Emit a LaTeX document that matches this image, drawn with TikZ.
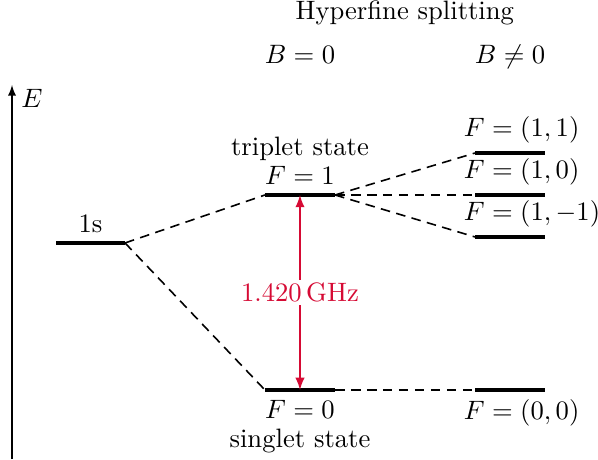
\documentclass[tikz,border=0pt]{standalone}
\usepackage{amsmath,amssymb}
\usepackage{xcolor}
\usepackage{tikz}
\usetikzlibrary{arrows,positioning,calc}
\definecolor{freqred}{RGB}{214,10,52}

\begin{document}
\begin{tikzpicture}[x=1.03cm,y=1.03cm]

\tikzstyle{level}=[draw,line width=1.2pt]
\tikzstyle{line}=[draw,dash pattern=on 3.6pt off 2.4pt,semithick]

\useasboundingbox (0,0) rectangle (7.667,-5.885);

% energy axis
\coordinate (axbot) at (0.154,-5.885);
\coordinate (axtop) at (0.154,-1.09);
\draw[-latex] (axbot) -- (axtop);
\node (elab) [anchor=west] at (0.154,-1.256) {$E$};

% headers
\node (hfs) [anchor=base] at (5.19,-0.244) {Hyperfine splitting};
\node (bzero) [anchor=base] at (3.846,-0.808) {$B=0$};
\node (bnonzero) [anchor=base] at (6.54,-0.808) {$B\neq 0$};

% level end points
\coordinate (sL) at (0.718,-3.115);  \coordinate (sR) at (1.603,-3.115);
\coordinate (tL) at (3.397,-2.5);    \coordinate (tR) at (4.295,-2.5);
\coordinate (gL) at (3.397,-5.0);    \coordinate (gR) at (4.295,-5.0);
\coordinate (p1L) at (6.09,-1.962);  \coordinate (p1R) at (6.987,-1.962);
\coordinate (z1L) at (6.09,-2.5);    \coordinate (z1R) at (6.987,-2.5);
\coordinate (m1L) at (6.09,-3.038);  \coordinate (m1R) at (6.987,-3.038);
\coordinate (g0L) at (6.09,-5.0);    \coordinate (g0R) at (6.987,-5.0);

% levels
\draw[level] (sL) -- node (slab) [above] {1s} (sR);
\draw[level] (tL) -- node (tlab) [above,align=center] {triplet state\\[-1pt]$F=1$} (tR);
\draw[level] (gL) -- node (glab) [below,align=center] {$F=0$\\[-1pt]singlet state} (gR);
\draw[level] (p1L) -- (p1R);
\draw[level] (z1L) -- (z1R);
\draw[level] (m1L) -- (m1R);
\draw[level] (g0L) -- (g0R);

\node (p1lab) [above right=0pt and -0.27cm of p1L] {$F=(1,1)$};
\node (z1lab) [above right=0pt and -0.27cm of z1L] {$F=(1,0)$};
\node (m1lab) [above right=0pt and -0.27cm of m1L] {$F=(1,-1)$};
\node (g0lab) [below right=0pt and -0.27cm of g0L] {$F=(0,0)$};

% splitting
\draw[line] (sR) -- (tL);
\draw[line] (sR) -- (gL);
\draw[line] (tR) -- (p1L);
\draw[line] (tR) -- (z1L);
\draw[line] (tR) -- (m1L);
\draw[line] (gR) -- (g0L);

% transition
\coordinate (ftop) at ($(tL)!0.5!(tR)$);
\coordinate (fbot) at ($(gL)!0.5!(gR)$);
\draw[freqred,semithick,latex-latex] (ftop) -- node (freq) [fill=white,inner sep=1pt] {1.420\,GHz} (fbot);

\end{tikzpicture}
\end{document}
